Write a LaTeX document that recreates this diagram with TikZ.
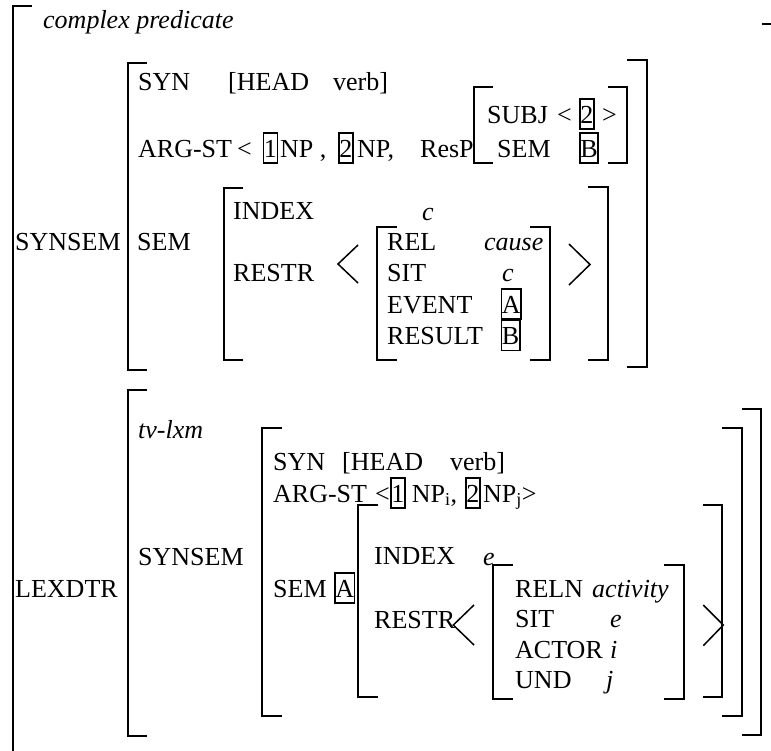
\documentclass[tikz,border=0pt]{standalone}
\usepackage{fontspec}
\setmainfont{Liberation Serif}
\tikzset{
  feat/.style={anchor=base west, inner sep=0pt, font=\fontsize{26}{30}\selectfont},
  val/.style={feat, font=\fontsize{26}{30}\selectfont\itshape},
  tagbox/.style={draw, line width=1.5pt, anchor=base west, inner xsep=0.5pt, inner ysep=0pt,
    text height=24pt, text depth=6pt, font=\fontsize{26}{30}\selectfont},
  brk/.style={line width=2pt},
  angbrk/.style={line width=1.5pt},
}
\begin{document}
\begin{tikzpicture}[x=1pt, y=-1pt]
    \useasboundingbox (0,0) rectangle (771,750);

    % 外側の括弧
    \draw[brk] (32,6) -- (12.5,6) -- (12.5,752);
    \draw[brk] (762,24) -- (773,24);
    \node[val] (cpred) at (43,28) {complex predicate};

    % SYNSEM(上)
    \node[feat] (synsemA) at (15,250) {SYNSEM};
    \draw[brk] (147,63) -- (128,63) -- (128,370) -- (147,370);
    \draw[brk] (627,60) -- (646.7,60) -- (646.7,367) -- (627,367);

    \node[feat] (synA) at (138,90) {SYN};
    \node[feat] (headA) at (228,90) {[HEAD};
    \node[feat] (verbA) at (333,90) {verb]};

    \node[feat] (argA) at (138,157) {ARG-ST};
    \node[feat] (ltA) at (237,157) {<};
    \node[tagbox] (tagA1) at (262.7,157) {1};
    \node[feat] (npA1) at (280,157) {NP ,};
    \node[tagbox] (tagA2) at (338,157) {2};
    \node[feat] (npA2) at (357,157) {NP,};
    \node[feat] (respA) at (420,157) {ResP};

    % ResPの中身
    \draw[brk] (493,87) -- (474,87) -- (474,163) -- (493,163);
    \draw[brk] (607.7,87) -- (626.7,87) -- (626.7,163) -- (607.7,163);
    \node[feat] (subjB) at (487,123) {SUBJ};
    \node[feat] (ltB) at (557,123) {<};
    \node[tagbox] (tagB2) at (579,123) {2};
    \node[feat] (gtB) at (602,123) {>};
    \node[feat] (semB) at (497,157) {SEM};
    \node[tagbox] (tagBB) at (579,157) {B};

    % SEM(上)
    \node[feat] (semA) at (137,250) {SEM};
    \draw[brk] (243,188) -- (224,188) -- (224,360) -- (243,360);
    \draw[brk] (588,187) -- (607.7,187) -- (607.7,360) -- (588,360);
    \node[feat] (indexA) at (233,219) {INDEX};
    \node[val] (cA) at (422,220) {c};
    \node[feat] (restrA) at (233,281) {RESTR};
    \draw[angbrk] (358,245) -- (338,264) -- (358,283);
    \draw[angbrk] (569,244) -- (590,264.5) -- (569,285);

    % causeの関係
    \draw[brk] (397,227) -- (377,227) -- (377,360) -- (397,360);
    \draw[brk] (530,227) -- (550,227) -- (550,360) -- (530,360);
    \node[feat] (relA) at (387,250) {REL};
    \node[val] (causeA) at (484,250) {cause};
    \node[feat] (sitA) at (387,281.5) {SIT};
    \node[val] (cB) at (502,281.5) {c};
    \node[feat] (eventA) at (387,313) {EVENT};
    \node[tagbox] (tagAA) at (500.7,313) {A};
    \node[feat] (resultA) at (387,344.5) {RESULT};
    \node[tagbox] (tagAB) at (500.7,344.5) {B};

    % LEXDTR
    \node[feat] (lexdtr) at (15,597) {LEXDTR};
    \draw[brk] (147,390) -- (128,390) -- (128,736) -- (147,736);
    \draw[brk] (742,409) -- (761,409) -- (761,735) -- (742,735);
    \node[val] (tvlxm) at (138,438) {tv-lxm};

    % SYNSEM(下)
    \node[feat] (synsemC) at (138,565) {SYNSEM};
    \draw[brk] (282,428) -- (262,428) -- (262,716) -- (282,716);
    \draw[brk] (722.3,428) -- (742.3,428) -- (742.3,716) -- (722.3,716);
    \node[feat] (synC) at (273,470) {SYN};
    \node[feat] (headC) at (342,470) {[HEAD};
    \node[feat] (verbC) at (450,470) {verb]};
    \node[feat] (argC) at (273,502) {ARG-ST};
    \node[feat] (ltC) at (375,502) {<};
    \node[tagbox] (tagC1) at (390,502) {1};
    \node[feat] (npC1) at (411.7,502) {NP\textsubscript{i},};
    \node[tagbox] (tagC2) at (465,502) {2};
    \node[feat] (npC2) at (483,502) {NP\textsubscript{j}>};
    \node[feat] (semC) at (273,597) {SEM};
    \node[tagbox] (tagCA) at (334,597) {A};

    % SEM(下)
    \draw[brk] (378,505) -- (358.3,505) -- (358.3,697) -- (378,697);
    \draw[brk] (703.3,505) -- (722.3,505) -- (722.3,697) -- (703.3,697);
    \node[feat] (indexC) at (374,564.5) {INDEX};
    \node[val] (eC) at (483,565) {e};
    \node[feat] (restrC) at (374,628) {RESTR};
    \draw[angbrk] (474,605) -- (453.3,625) -- (474,645);
    \draw[angbrk] (703.3,605) -- (723.3,625) -- (703.3,645.7);

    % activityの関係
    \draw[brk] (512.7,565) -- (492.7,565) -- (492.7,699) -- (512.7,699);
    \draw[brk] (664.3,565) -- (684,565) -- (684,699) -- (664.3,699);
    \node[feat] (relnD) at (515,597) {RELN};
    \node[val] (actD) at (592,597) {activity};
    \node[feat] (sitD) at (515,627.5) {SIT};
    \node[val] (eD) at (610,627.5) {e};
    \node[feat] (actorD) at (515,658) {ACTOR};
    \node[val] (iD) at (610,658) {i};
    \node[feat] (undD) at (515,688.5) {UND};
    \node[val] (jD) at (606,688.5) {j};
  \end{tikzpicture}
\end{document}
